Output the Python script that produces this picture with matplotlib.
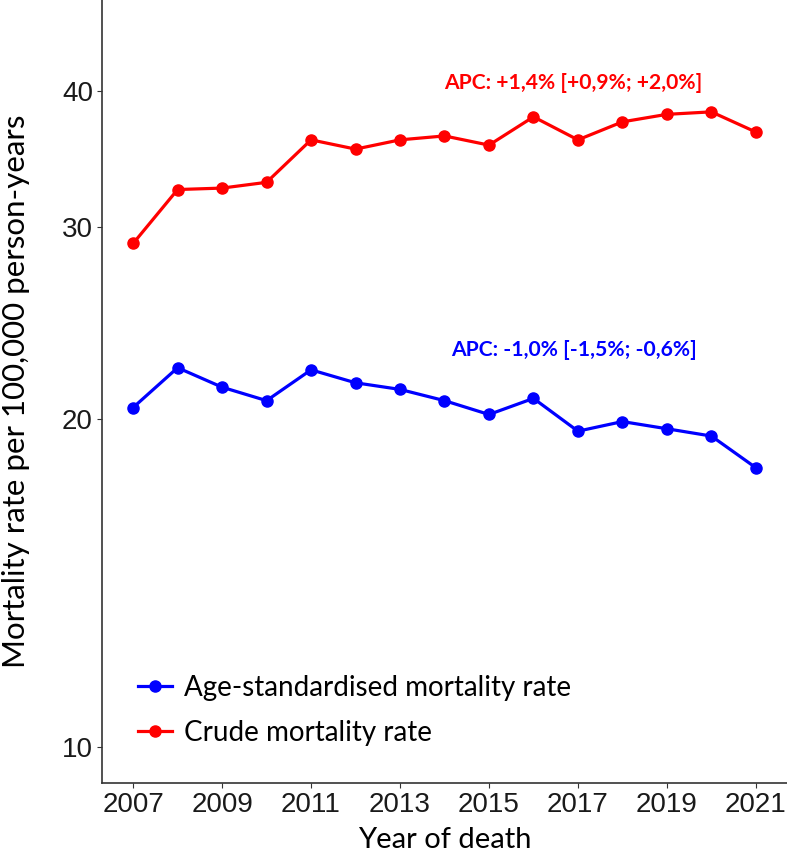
import matplotlib
matplotlib.use("Agg")
import matplotlib.pyplot as plt
from matplotlib.ticker import FixedLocator, NullLocator

years = list(range(2007, 2022))
crude_rate = [29.0, 32.5, 32.6, 33.0, 36.1, 35.4, 36.1, 36.4, 35.7, 37.9, 36.1, 37.5, 38.1, 38.3, 36.7]
age_std_rate = [20.5, 22.3, 21.4, 20.8, 22.2, 21.6, 21.3, 20.8, 20.2, 20.9, 19.5, 19.9, 19.6, 19.3, 18.05]
y_ticks = [10, 20, 30, 40]
x_ticks = [2007, 2009, 2011, 2013, 2015, 2017, 2019, 2021]
crude_label = "Crude mortality rate"
age_label = "Age-standardised mortality rate"
crude_apc = "APC: +1,4% [+0,9%; +2,0%]"
age_apc = "APC: -1,0% [-1,5%; -0,6%]"

TXT = ["Lato", "DejaVu Sans"]

fig = plt.figure(figsize=(7.87, 8.56), dpi=100)
ax = fig.add_axes([102/787, 1 - 782.7/856, 1 - 102/787, 782.7/856])

ax.plot(years, age_std_rate, color="#0000FF", lw=2.3, marker="o", ms=8, label=age_label)
ax.plot(years, crude_rate, color="#FF0000", lw=2.3, marker="o", ms=8, label=crude_label)

ax.set_yscale("log")
ax.set_ylim(10**0.9673, 10**1.6859)
ax.set_xlim(2006.3, 2021.7)
ax.yaxis.set_major_locator(FixedLocator(y_ticks))
ax.yaxis.set_minor_locator(NullLocator())
ax.set_yticklabels([str(v) for v in y_ticks])
ax.set_xticks(x_ticks)
ax.set_xticklabels([str(v) for v in x_ticks])

ax.tick_params(axis="both", which="major", length=3.5, width=0.8, color="#333333", pad=3,
               labelsize=20, labelcolor="#1a1a1a", labelfontfamily="Liberation Sans")
for s in ["top", "right"]:
    ax.spines[s].set_visible(False)
for s in ["left", "bottom"]:
    ax.spines[s].set_color("#333333")
    ax.spines[s].set_linewidth(1.2)

ax.set_xlabel("Year of death", fontfamily=TXT, fontsize=21, labelpad=7)
ax.set_ylabel("Mortality rate per 100,000 person-years", fontfamily=TXT, fontsize=22.5)
ax.yaxis.set_label_coords(-0.105, 0.5)

ax.text(2016.9, 10**(1 + (746.7 - 83) / 1088.6), crude_apc, color="#FF0000", fontweight="bold",
        fontfamily=TXT, fontsize=15.2, ha="center", va="center")
ax.text(2016.92, 10**(1 + (746.7 - 350) / 1088.6), age_apc, color="#0000FF", fontweight="bold",
        fontfamily=TXT, fontsize=15.2, ha="center", va="center")

leg = ax.legend(loc="lower left", bbox_to_anchor=(0.037, 0.033), frameon=False,
                prop={"family": TXT, "size": 20}, handlelength=1.22, handletextpad=0.43,
                labelspacing=0.67, borderaxespad=0)

fig.savefig("out.png", dpi=100)
